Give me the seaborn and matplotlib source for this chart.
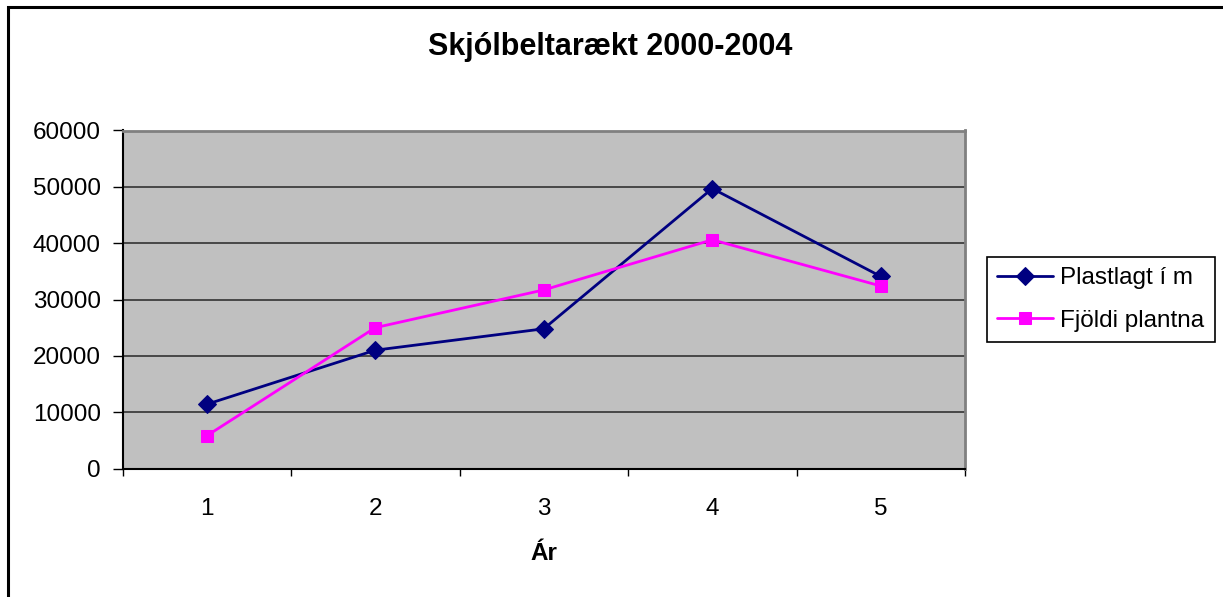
import matplotlib
matplotlib.use("Agg")
import matplotlib.pyplot as plt
from matplotlib.patches import Rectangle
import seaborn as sns
import pandas as pd
import numpy as np

# Data
years = [1, 2, 3, 4, 5]
plastlagt = [11400, 21000, 24800, 49700, 34100]
fjoldi = [5800, 25000, 31700, 40600, 32400]
series_names = ["Plastlagt í m", "Fjöldi plantna"]
title = "Skjólbeltarækt 2000-2004"
xlabel = "Ár"
yticks = [0, 10000, 20000, 30000, 40000, 50000, 60000]

sns.set_theme(style="white")
plt.rcParams['font.family'] = ['Liberation Sans', 'DejaVu Sans']
plt.rcParams['text.color'] = 'black'
plt.rcParams['xtick.color'] = 'black'
plt.rcParams['ytick.color'] = 'black'
plt.rcParams['axes.labelcolor'] = 'black'

fs = 17.5

fig = plt.figure(figsize=(12.23, 5.97), dpi=100)
ax = fig.add_axes([122.5/1223, 1-468.5/597, (965-122.5)/1223, (468.5-130.5)/597])
ax.set_facecolor("#C0C0C0")

df1 = pd.DataFrame({"x": years, "y": plastlagt})
df2 = pd.DataFrame({"x": years, "y": fjoldi})
sns.lineplot(data=df1, x="x", y="y", ax=ax, color="#000080", marker="D", markersize=9.5,
             markeredgecolor="#000080", linewidth=2, label=series_names[0], zorder=3)
sns.lineplot(data=df2, x="x", y="y", ax=ax, color="#FF00FF", marker="s", markersize=9,
             markeredgecolor="#FF00FF", linewidth=2, label=series_names[1], zorder=3)

ax.set_xlim(0.5, 5.5)
ax.set_ylim(0, 60000)
ax.set_yticks(yticks)
ax.set_yticklabels([str(v) for v in yticks], fontsize=fs)
ax.set_xticks(years)
ax.set_xticklabels([str(v) for v in years], fontsize=fs)
ax.set_xticks(np.arange(0.5, 6.0, 1.0), minor=True)
ax.tick_params(axis="x", which="major", length=0, pad=21)
ax.tick_params(axis="x", which="minor", length=5, width=1, direction="out", color="black", bottom=True)
ax.tick_params(axis="y", which="major", length=7.5, width=1, direction="out", color="black", pad=8, left=True)
ax.yaxis.grid(True, color="#333333", linewidth=1.2)
ax.set_axisbelow(True)
ax.set_xlabel("")
ax.set_ylabel("")

for s in ["top", "right"]:
    ax.spines[s].set_color("#808080")
    ax.spines[s].set_linewidth(2)
for s in ["left", "bottom"]:
    ax.spines[s].set_color("black")
    ax.spines[s].set_linewidth(1.5)

fig.text(610.5/1223, 1-47/597, title, ha="center", va="center", fontsize=22, fontweight="bold", color="black")
fig.text(543.5/1223, 1-553/597, xlabel, ha="center", va="center", fontsize=fs, fontweight="bold", color="black")

leg = ax.legend(loc="upper left", bbox_to_anchor=(987/1223, 1-257/597),
                bbox_transform=fig.transFigure, borderaxespad=0, fontsize=fs,
                frameon=True, fancybox=False, edgecolor="black", framealpha=1,
                handlelength=2.3, handletextpad=0.3, borderpad=0.42, labelspacing=0.85)
leg.get_frame().set_linewidth(1.2)
for t in leg.get_texts():
    t.set_color("black")

fig.patches.append(Rectangle((8/1223, -0.1), 1.5, 1 - 7/597 + 0.1, transform=fig.transFigure,
                             fill=False, edgecolor="black", linewidth=2.2))

fig.savefig("out.png", dpi=100)
